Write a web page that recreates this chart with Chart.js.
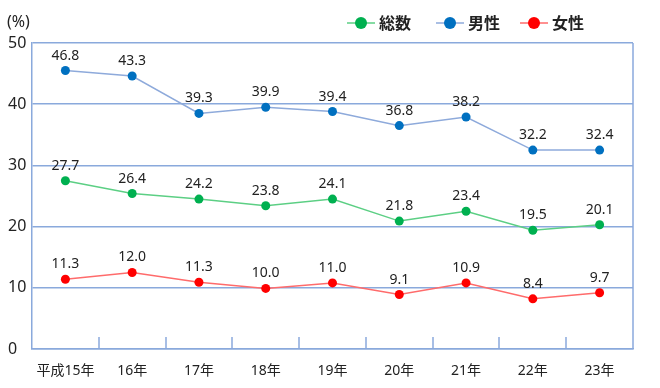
<!DOCTYPE html>
<html><head><meta charset="utf-8">
<script src="https://cdn.jsdelivr.net/npm/chart.js@4"></script>
<style>html,body{margin:0;padding:0;background:#fff}#wrap{width:660px;height:388px;position:relative}</style>
</head><body><div id="wrap"><canvas id="c" width="660" height="388"></canvas></div>
<script>
const categories = ["平成15年","16年","17年","18年","19年","20年","21年","22年","23年"];
const yTicks = [0,10,20,30,40,50];
const seriesNames = ["総数","男性","女性"];
// plotted positions
const totalValues  = [27.5,25.4,24.5,23.4,24.5,20.9,22.5,19.4,20.3];
const maleValues   = [45.5,44.6,38.5,39.5,38.8,36.5,37.9,32.5,32.5];
const femaleValues = [11.4,12.5,10.9,9.9,10.8,8.9,10.8,8.2,9.2];
// printed data labels
const totalLabels  = ["27.7","26.4","24.2","23.8","24.1","21.8","23.4","19.5","20.1"];
const maleLabels   = ["46.8","43.3","39.3","39.9","39.4","36.8","38.2","32.2","32.4"];
const femaleLabels = ["11.3","12.0","11.3","10.0","11.0","9.1","10.9","8.4","9.7"];

const FONT = '"Noto Sans","Noto Sans CJK JP",sans-serif';
const AXIS = '#8aa9dc';
const lineCols = ['#5ccf84','#8eaadb','#ff6b6b'];
const ptCols = ['#00b050','#0070c0','#ff0000'];
const labelSets = [totalLabels, maleLabels, femaleLabels];

const extras = {
  id:'extras',
  afterDraw(chart){
    const ctx = chart.ctx, a = chart.chartArea, xs = chart.scales.x;
    ctx.save();
    ctx.strokeStyle = AXIS; ctx.lineWidth = 1.5;
    // right border
    ctx.beginPath(); ctx.moveTo(a.right, a.top); ctx.lineTo(a.right, a.bottom); ctx.stroke();
    // category boundary ticks
    for(let i=0;i<categories.length-1;i++){
      const x = Math.round((xs.getPixelForTick(i)+xs.getPixelForTick(i+1))/2);
      ctx.beginPath(); ctx.moveTo(x, a.bottom-12); ctx.lineTo(x, a.bottom); ctx.stroke();
    }
    // data labels
    ctx.fillStyle = '#222'; ctx.font = '14px '+FONT; ctx.textAlign='center'; ctx.textBaseline='middle';
    chart.data.datasets.forEach((ds,di)=>{
      chart.getDatasetMeta(di).data.forEach((pt,i)=>{
        ctx.fillText(labelSets[di][i], pt.x, pt.y-15);
      });
    });
    // (%)
    ctx.textAlign='left'; ctx.font='16px '+FONT; ctx.fillStyle='#222';
    ctx.fillText('(%)', 7, 22);
    // legend
    const lx = [347,436,520];
    ctx.font = 'bold 16px '+FONT;
    seriesNames.forEach((n,i)=>{
      const x0 = lx[i], y = 23;
      ctx.strokeStyle = lineCols[i]; ctx.lineWidth = 1.5;
      ctx.beginPath(); ctx.moveTo(x0,y); ctx.lineTo(x0+28,y); ctx.stroke();
      ctx.fillStyle = ptCols[i];
      ctx.beginPath(); ctx.arc(x0+14,y,6,0,Math.PI*2); ctx.fill();
      ctx.fillStyle = '#222';
      ctx.fillText(n, x0+32, y+1);
    });
    ctx.restore();
  }
};

new Chart(document.getElementById('c'), {
  type:'line',
  data:{
    labels: categories,
    datasets:[
      {label:seriesNames[0], data: totalValues, borderColor:lineCols[0], backgroundColor:ptCols[0], pointBackgroundColor:ptCols[0], pointBorderWidth:0, pointRadius:4.5, borderWidth:1.5, tension:0},
      {label:seriesNames[1], data: maleValues, borderColor:lineCols[1], backgroundColor:ptCols[1], pointBackgroundColor:ptCols[1], pointBorderWidth:0, pointRadius:4.5, borderWidth:1.5, tension:0},
      {label:seriesNames[2], data: femaleValues, borderColor:lineCols[2], backgroundColor:ptCols[2], pointBackgroundColor:ptCols[2], pointBorderWidth:0, pointRadius:4.5, borderWidth:1.5, tension:0}
    ]
  },
  options:{
    responsive:false, animation:false, devicePixelRatio:1,
    layout:{padding:{left:8,right:27,top:43,bottom:0}},
    plugins:{legend:{display:false}, tooltip:{enabled:false}},
    scales:{
      x:{
        offset:true,
        grid:{display:false},
        border:{display:true,color:AXIS,width:1.5},
        ticks:{color:'#222',font:{family:FONT,size:14},padding:6,maxRotation:0,autoSkip:false},
        afterFit(s){ s.height = 39; }
      },
      y:{
        min:0,max:50,
        afterBuildTicks(s){ s.ticks = yTicks.map(v=>({value:v})); },
        grid:{color:AXIS,drawTicks:false,lineWidth:1.5},
        border:{display:true,color:AXIS,width:1.5},
        ticks:{color:'#222',font:{family:FONT,size:16},padding:7,crossAlign:'far'},
        afterFit(s){ s.width = 24; }
      }
    }
  },
  plugins:[extras]
});
</script></body></html>
